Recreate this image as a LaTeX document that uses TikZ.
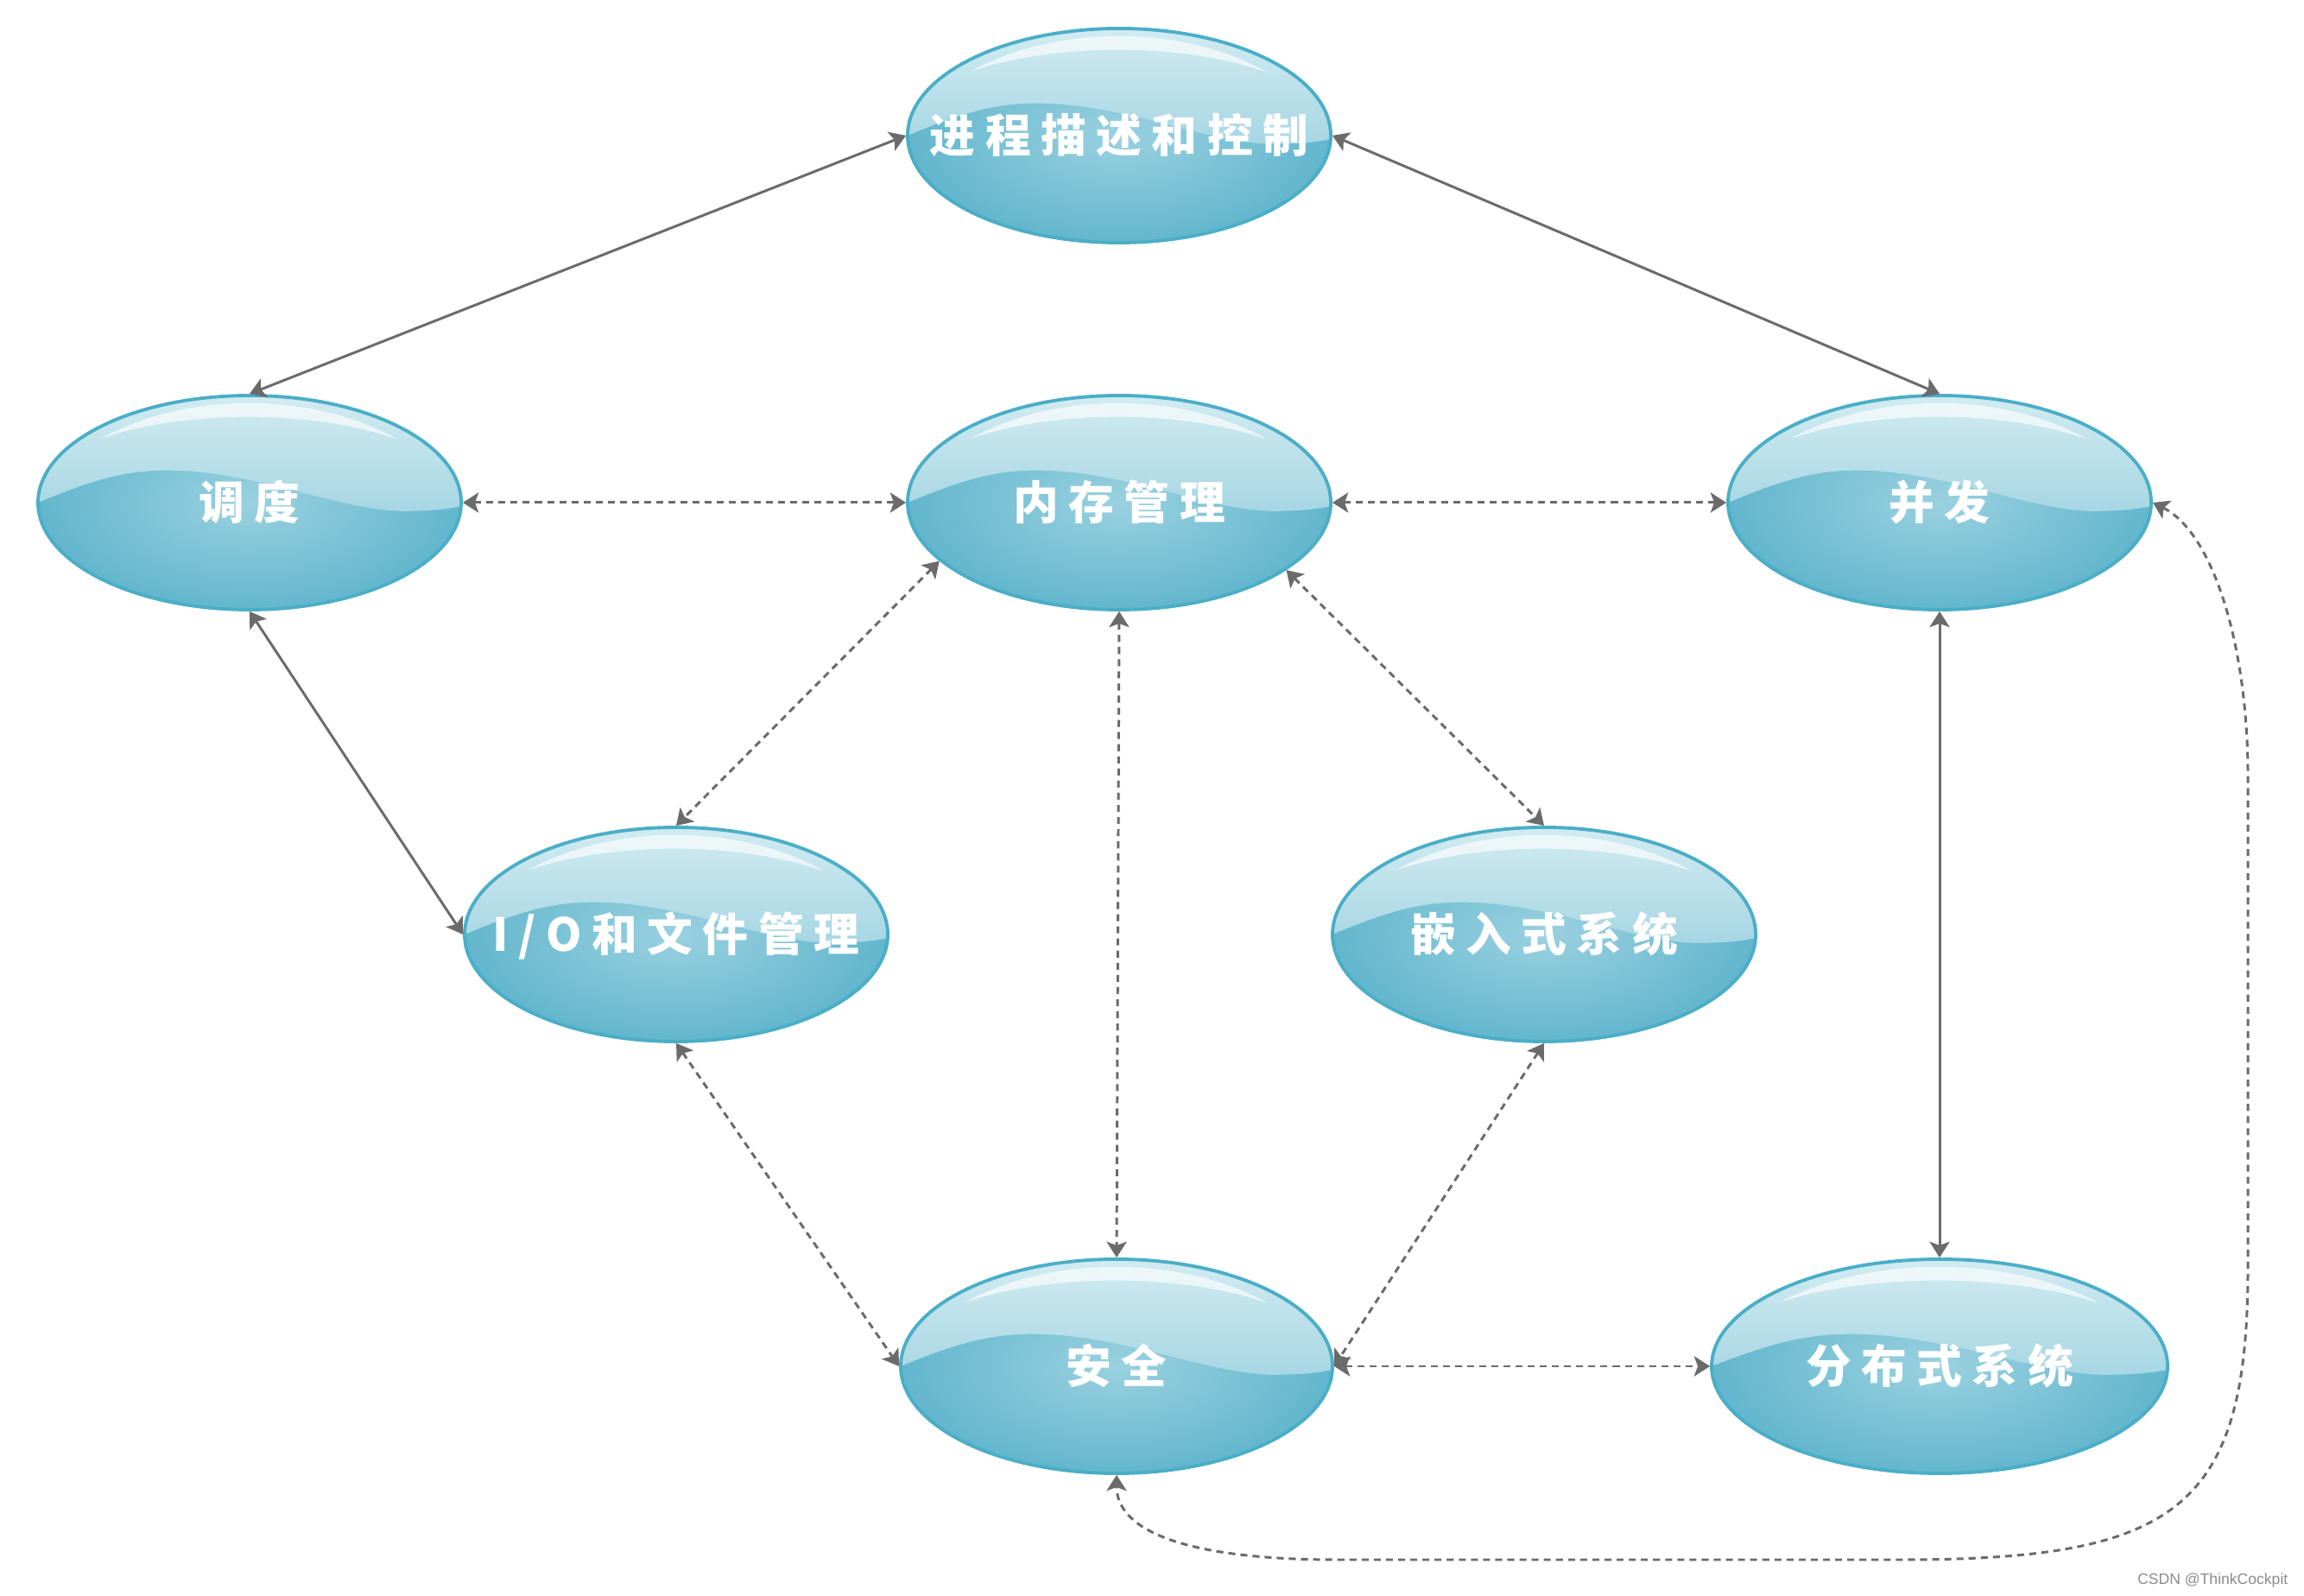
\documentclass[tikz,border=0pt]{standalone}
\usepackage{fontspec}
\newfontfamily\cjk[LetterSpace=22]{Noto Sans CJK SC}
\newfontfamily\marksf{Liberation Sans}
\usetikzlibrary{arrows.meta,shapes.geometric}
\definecolor{rim}{HTML}{4AAEC7}
\definecolor{bodyin}{HTML}{9AD1E0}
\definecolor{bodyout}{HTML}{62B6CD}
\definecolor{glosstop}{HTML}{D6EDF3}
\definecolor{glossbot}{HTML}{A6D6E3}
\definecolor{wire}{HTML}{6B6B6B}

\begin{document}
\begin{tikzpicture}[every node/.style={font=\cjk\bfseries\fontsize{15pt}{18pt}\selectfont},
    bubble/.style={ellipse, draw=rim, line width=1.1pt, inner sep=0pt, text=white, minimum width=#1*2cm, minimum height=2.48cm, inner color=bodyin, outer color=bodyout,
      text height=0pt, text depth=0pt,
      execute at begin node={\hbox to 0pt\bgroup\hss\lower5.6pt\hbox\bgroup},
      execute at end node={\egroup\hss\egroup},
      path picture={
        \begin{scope}[shift={(path picture bounding box.center)}, x=#1cm, y=1.24cm]
          \shade[top color=glosstop, bottom color=glossbot] (-1.1,0) -- (-1,0) .. controls (-0.7,0.25) and (-0.55,0.31) .. (-0.35,0.3) .. controls (0.05,0.28) and (0.45,-0.09) .. (0.75,-0.08) .. controls (0.9,-0.07) .. (1.1,0) -- (1.1,1.1) -- (-1.1,1.1) -- cycle;
          \fill[white, opacity=0.65] (-0.7,0.6) .. controls (-0.3,1.04) and (0.3,1.04) .. (0.7,0.59) .. controls (0.3,0.87) and (-0.3,0.87) .. cycle;
        \end{scope}}},
    bubble/.default=2.45,
    link/.style={draw=wire, line width=0.85pt, {Stealth[length=5.2pt, width=6.6pt, inset=1.2pt]}-{Stealth[length=5.2pt, width=6.6pt, inset=1.2pt]}},
    dlink/.style={link, dash pattern=on 2.3pt off 1.7pt}]
  \path[fill=white] (0,0) rectangle (26.68,18.48);
  \node[bubble] (proc) at (12.96,16.91) {进程描述和控制};
  \node[bubble] (sched) at (2.89,12.66) {调度};
  \node[bubble] (mem) at (12.96,12.66) {内存管理};
  \node[bubble] (conc) at (22.46,12.66) {并发};
  \node[bubble] (io) at (7.83,7.66) {I/O和文件管理};
  \node[bubble] (emb) at (17.88,7.66) {嵌入式系统};
  \node[bubble=2.5] (sec) at (12.93,2.66) {安全};
  \node[bubble=2.64] (dist) at (22.46,2.66) {分布式系统};
  \draw[link] (proc.west) -- (sched.north);
  \draw[link] (proc.east) -- (conc.north);
  \draw[dlink] (sched.east) -- (mem.west);
  \draw[dlink] (mem.east) -- (conc.west);
  \draw[link] (sched.south) -- (io.west);
  \draw[dlink] (mem.198) -- (io.north);
  \draw[dlink] (mem.-22) -- (emb.north);
  \draw[dlink] (mem.south) -- (sec.north);
  \draw[link] (conc.south) -- (dist.north);
  \draw[dlink] (io.south) -- (sec.west);
  \draw[dlink] (emb.south) -- (sec.east);
  \draw[dlink] (sec.east) -- (dist.west);
  \draw[dlink] (conc.east) .. controls +(0.7,-0.35) and +(0,1.5) .. (26.03,9.5) -- (26.03,3.8) .. controls +(0,-2.8) and +(3.2,0) .. (22.0,0.42) -- (15.5,0.42) .. controls +(-1.9,0) and +(0,-0.6) .. (sec.south);
  \node[font=\marksf\fontsize{5pt}{6pt}\selectfont, text=black!45, anchor=east, inner sep=0pt] (mark) at (26.5,0.18) {CSDN @ThinkCockpit};
\end{tikzpicture}
\end{document}
